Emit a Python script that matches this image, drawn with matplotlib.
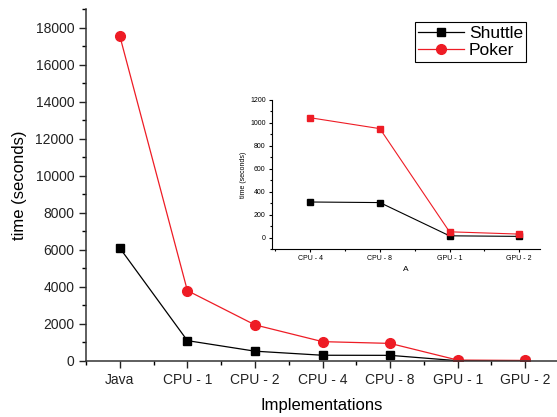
import numpy as np
import matplotlib.pyplot as plt
from matplotlib.ticker import MultipleLocator, AutoMinorLocator

plt.rcParams['font.family'] = ['Liberation Sans', 'DejaVu Sans']

# data
impls = ['Java', 'CPU - 1', 'CPU - 2', 'CPU - 4', 'CPU - 8', 'GPU - 1', 'GPU - 2']
shuttle = [6100, 1100, 530, 310, 305, 15, 10]
poker = [17550, 3800, 1950, 1045, 950, 50, 30]

# inset: last four implementations
inset_impls = ['CPU - 4', 'CPU - 8', 'GPU - 1', 'GPU - 2']
inset_shuttle = [310, 305, 15, 10]
inset_poker = [1045, 950, 50, 30]

red = '#ee1c25'

fig = plt.figure(figsize=(5.57, 4.17), dpi=100)
ax = fig.add_axes([0.1544, 0.1343, 0.8456, 0.8441])

x = np.arange(len(impls))
ax.plot(x, shuttle, color='black', lw=0.9, marker='s', ms=6, label='Shuttle')
ax.plot(x, poker, color=red, lw=0.9, marker='o', ms=7, label='Poker')

ax.set_xlim(-0.5, 6.47)
ax.set_ylim(0, 19000)
ax.set_xticks(x)
ax.set_xticklabels(impls)
ax.xaxis.set_minor_locator(MultipleLocator(0.5))
ax.yaxis.set_major_locator(MultipleLocator(2000))
ax.yaxis.set_minor_locator(MultipleLocator(1000))
ax.tick_params(which='major', direction='out', length=5, width=1, labelsize=10, colors='#222222')
ax.tick_params(which='minor', direction='out', length=3, width=1)
for s in ['top', 'right']:
    ax.spines[s].set_visible(False)
for s in ['left', 'bottom']:
    ax.spines[s].set_linewidth(1.1)
    ax.spines[s].set_color('#333333')
ax.set_xlabel('Implementations', fontsize=12, labelpad=8)
ax.set_ylabel('time (seconds)', fontsize=12, labelpad=6)

leg = ax.legend(loc='upper right', bbox_to_anchor=(0.935, 0.963), fontsize=12.5,
                fancybox=False, edgecolor='black', framealpha=1,
                handlelength=2.6, borderpad=0.2, labelspacing=0.15,
                handletextpad=0.3, borderaxespad=0)
leg.get_frame().set_linewidth(0.8)

# inset
ins = fig.add_axes([0.4883, 0.4029, 0.4812, 0.3573])
xi = np.arange(len(inset_impls))
ins.plot(xi, inset_shuttle, color='black', lw=0.8, marker='s', ms=4)
ins.plot(xi, inset_poker, color=red, lw=0.8, marker='s', ms=4)
ins.set_xlim(-0.55, 3.3)
ins.set_ylim(-100, 1200)
ins.set_xticks(xi)
ins.set_xticklabels(inset_impls)
ins.xaxis.set_minor_locator(MultipleLocator(0.5))
ins.yaxis.set_major_locator(MultipleLocator(200))
ins.yaxis.set_minor_locator(MultipleLocator(100))
ins.tick_params(which='major', direction='out', length=2.5, width=0.8, labelsize=5, pad=2)
ins.tick_params(which='minor', direction='out', length=1.5, width=0.8)
for s in ['top', 'right']:
    ins.spines[s].set_visible(False)
for s in ['left', 'bottom']:
    ins.spines[s].set_linewidth(0.8)
ins.set_xlabel('A', fontsize=6, labelpad=3)
ins.set_ylabel('time (seconds)', fontsize=5, labelpad=2)

fig.savefig('out.png', dpi=100)
